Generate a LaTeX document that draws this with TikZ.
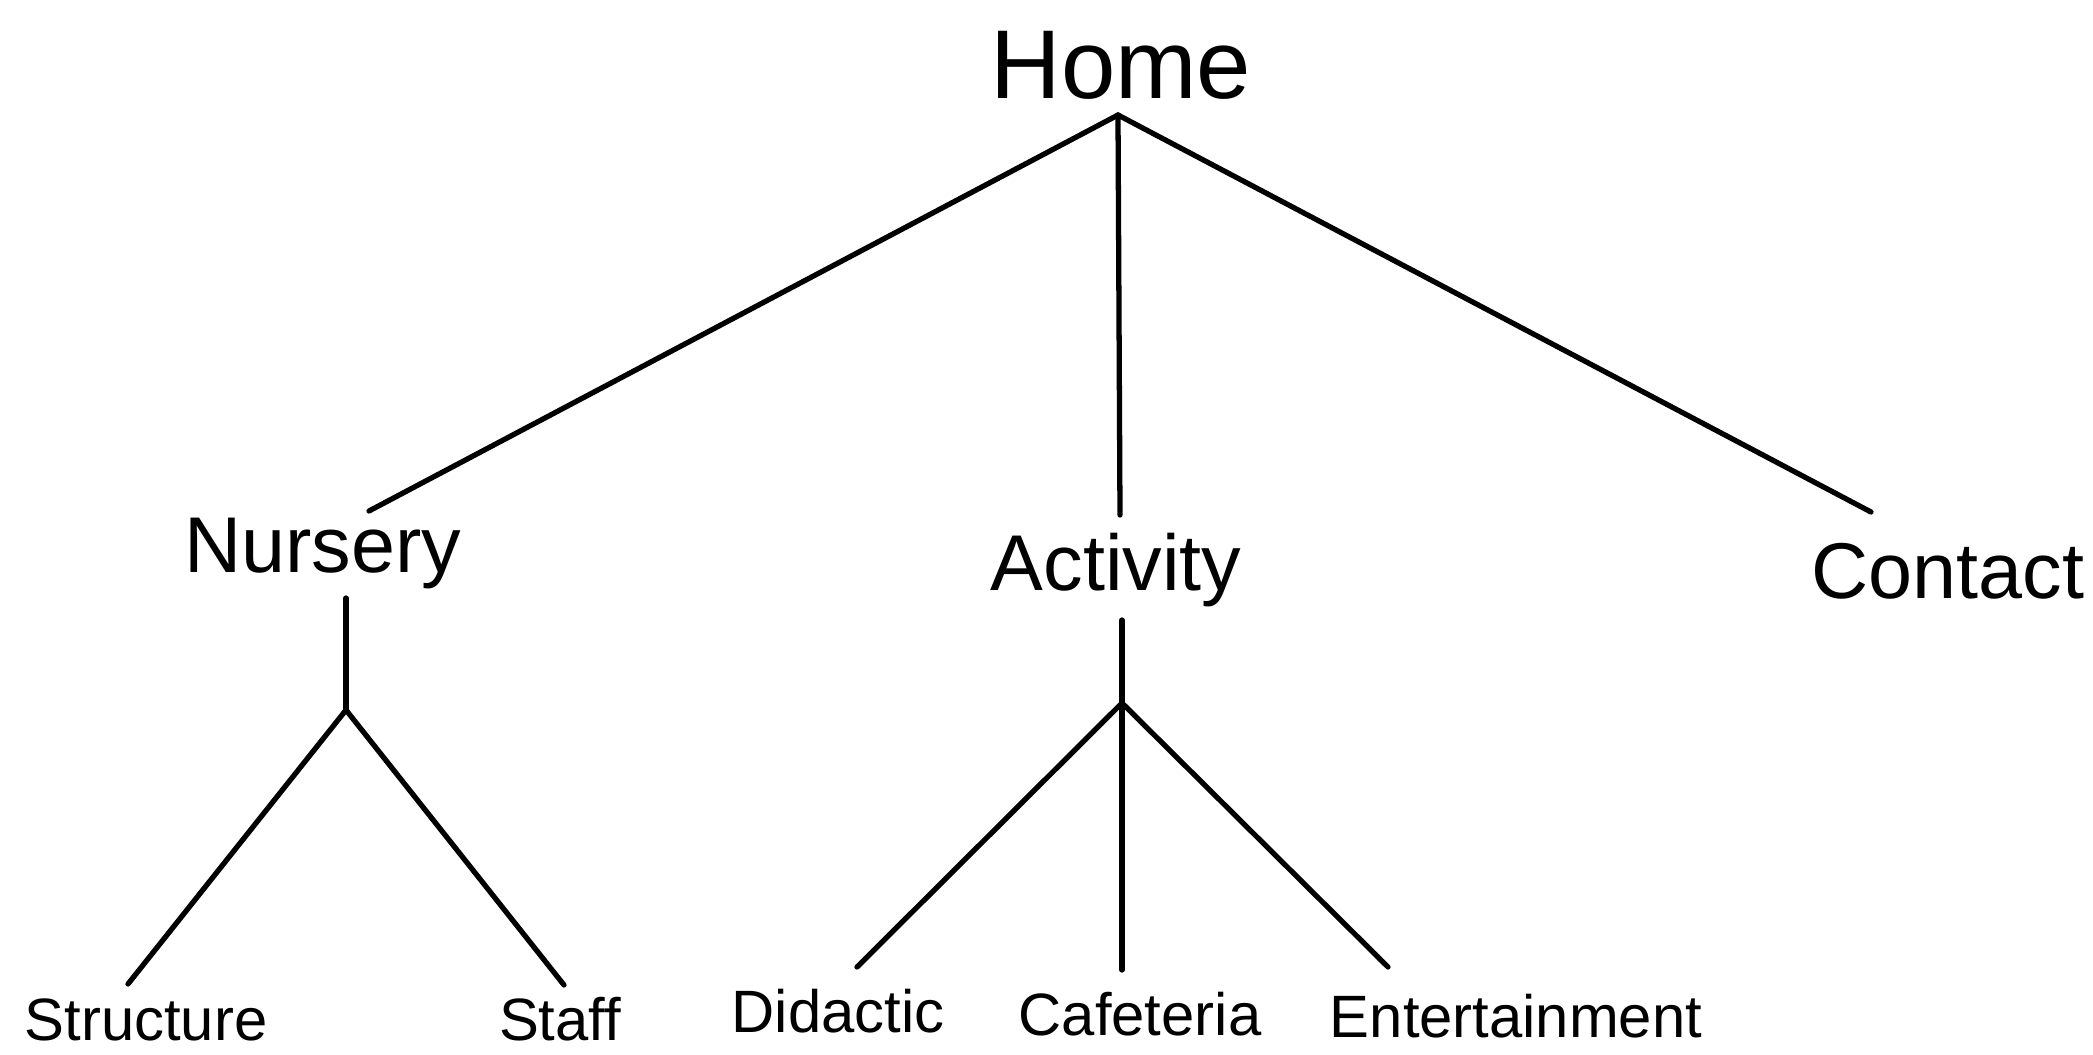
\documentclass[tikz,border=0pt]{standalone}
\usepackage{fontspec}
\setmainfont{Liberation Sans}
\usetikzlibrary{positioning}
\begin{document}
\begin{tikzpicture}[x=0.01cm, y=-0.01cm,
  root/.style={anchor=base, inner sep=0pt, font=\fontsize{27.8pt}{30pt}\selectfont},
  sect/.style={anchor=base, inner sep=0pt, font=\fontsize{22.5pt}{25pt}\selectfont},
  leaf/.style={anchor=base, inner sep=0pt, font=\fontsize{17pt}{19pt}\selectfont},
  link/.style={draw=black, line width=1.5pt, line cap=round},
]
\useasboundingbox (0,0) rectangle (2093,1054);

\node[root] (home)     at (1121,98)  {Home};

\node[sect] (nursery)  at (323,572)  {Nursery};
\node[sect] (activity) at (1116,590) {Activity};
\node[sect] (contact)  at (1948,598) {Contact};

\node[leaf] (structure)     at (146,1040)  {Structure};
\node[leaf] (staff)         at (560,1040)  {Staff};
\node[leaf] (didactic)      at (838,1032)  {Didactic};
\node[leaf] (cafeteria)     at (1140,1035) {Cafeteria};
\node[leaf] (entertainment) at (1516,1037) {Entertainment};

\coordinate (homeroot)   at (1118,115);
\coordinate (nurseryin)  at (369,511);
\coordinate (activityin) at (1120,515);
\coordinate (contactin)  at (1871,512);

\coordinate (nurseryout) at (346,598);
\coordinate (nurseryfork) at (346,710);
\coordinate (structurein) at (128,984);
\coordinate (staffin)     at (564,985);

\coordinate (activityout)  at (1122,620);
\coordinate (activityfork) at (1122,703);
\coordinate (didacticin)   at (857,967);
\coordinate (cafeteriain)  at (1122,970);
\coordinate (entertainin)  at (1388,967);

\draw[link] (homeroot) -- (nurseryin);
\draw[link] (homeroot) -- (activityin);
\draw[link] (homeroot) -- (contactin);

\draw[link] (nurseryout) -- (nurseryfork);
\draw[link] (nurseryfork) -- (structurein);
\draw[link] (nurseryfork) -- (staffin);

\draw[link] (activityout) -- (activityfork);
\draw[link] (activityfork) -- (didacticin);
\draw[link] (activityfork) -- (cafeteriain);
\draw[link] (activityfork) -- (entertainin);
\end{tikzpicture}
\end{document}
